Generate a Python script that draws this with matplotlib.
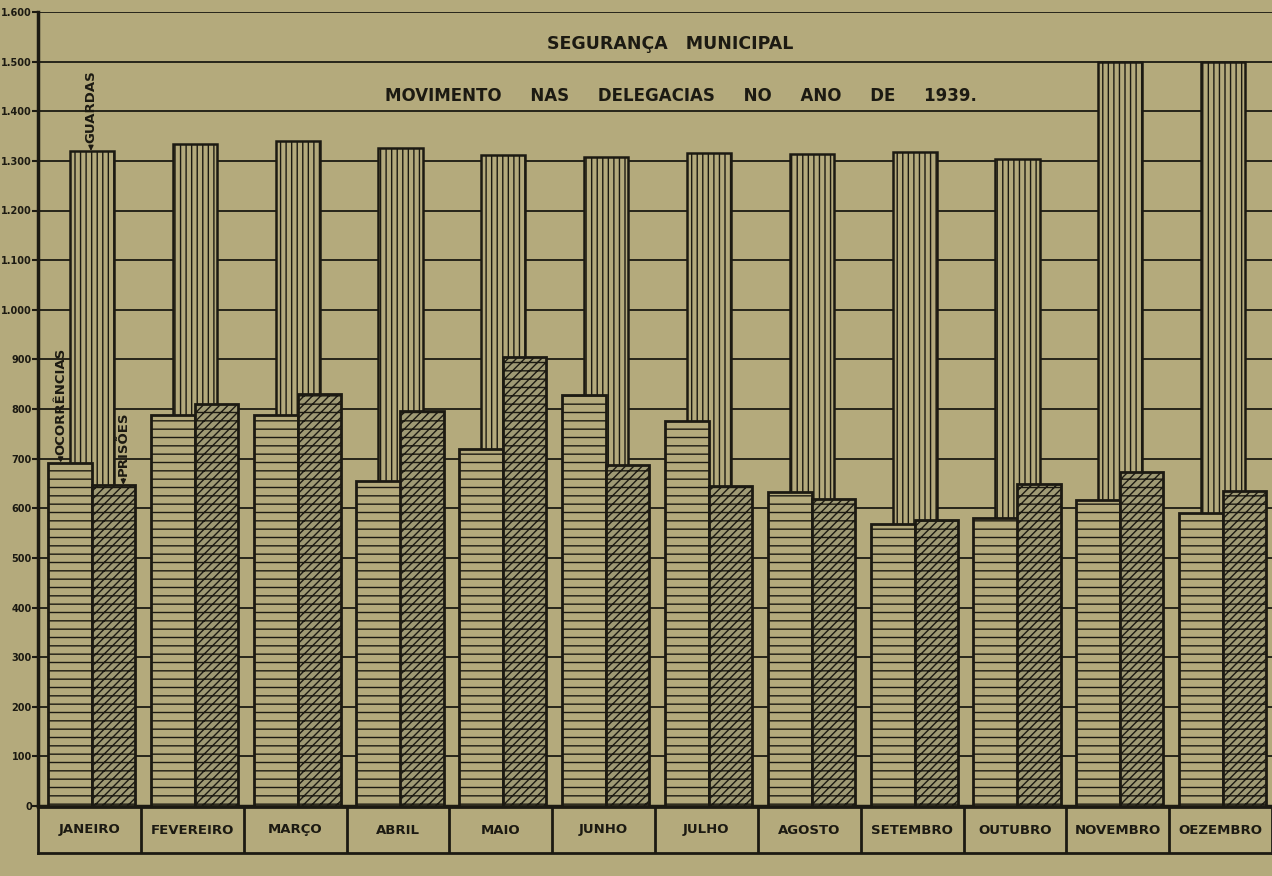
import matplotlib
matplotlib.use("Agg")
import matplotlib.pyplot as plt
import numpy as np

# data
months = ["JANEIRO", "FEVEREIRO", "MARÇO", "ABRIL", "MAIO", "JUNHO",
          "JULHO", "AGOSTO", "SETEMBRO", "OUTUBRO", "NOVEMBRO", "OEZEMBRO"]
guardas = [1320, 1334, 1340, 1326, 1312, 1308, 1316, 1314, 1318, 1304, 1500, 1500]
ocorrencias = [692, 788, 788, 655, 719, 828, 776, 632, 569, 581, 617, 591]
prisoes = [647, 810, 830, 796, 905, 687, 645, 619, 577, 649, 673, 634]
yticks = list(range(0, 1700, 100))

bg = "#b4aa7c"
ink = "#1c1a12"
plt.rcParams["hatch.linewidth"] = 1.0
plt.rcParams["font.family"] = ["DejaVu Sans"]
plt.rcParams["font.weight"] = "bold"

fig = plt.figure(figsize=(12.72, 8.76), dpi=100, facecolor=bg)
ax = fig.add_axes([38 / 1272, 70 / 876, 1234 / 1272, 794 / 876])
ax.set_facecolor(bg)
ax.set_xlim(0, 12)
ax.set_ylim(0, 1600)

# grid
for v in yticks[1:]:
    ax.axhline(v, color=ink, lw=1.3, zorder=1)

x = np.arange(len(months))
ax.bar(x + 0.525, guardas, width=0.43, facecolor=bg, edgecolor=ink,
       hatch="|||", lw=1.8, zorder=2)
ax.bar(x + 0.311, ocorrencias, width=0.43, facecolor=bg, edgecolor=ink,
       hatch="--", lw=2, zorder=3)
ax.bar(x + 0.734, prisoes, width=0.42, facecolor="#9f9a74", edgecolor=ink,
       hatch="////--", lw=2, zorder=3)

for s in ["top", "right"]:
    ax.spines[s].set_visible(False)
ax.spines["left"].set_linewidth(2.5)
ax.spines["bottom"].set_linewidth(2.5)
ax.spines["left"].set_color(ink)
ax.spines["bottom"].set_color(ink)
ax.set_xticks([])
ax.set_yticks(yticks)
ax.set_yticklabels([f"{v:,}".replace(",", ".") for v in yticks],
                   fontsize=7, fontweight="bold")
ax.tick_params(axis="y", length=4, width=1.5, pad=0.5, color=ink, labelcolor=ink)

# titles
ax.text(6.15, 1535, "SEGURANÇA   MUNICIPAL", ha="center", va="center",
        fontsize=12.5, fontweight="bold", color=ink, zorder=4)
ax.text(6.25, 1430, "MOVIMENTO     NAS     DELEGACIAS     NO     ANO     DE     1939.",
        ha="center", va="center", fontsize=12, fontweight="bold", color=ink, zorder=4)

# series labels on January
arrow = dict(arrowstyle="-|>", lw=1.1, color=ink, mutation_scale=7, shrinkA=0, shrinkB=0)
ax.annotate("GUARDAS", xy=(0.515, guardas[0]), xytext=(0.515, guardas[0] + 16),
            rotation=90, ha="center", va="bottom", fontsize=9.5,
            color=ink, arrowprops=arrow, zorder=4)
ax.annotate("OCORRÊNCIAS", xy=(0.22, ocorrencias[0]), xytext=(0.22, ocorrencias[0] + 16),
            rotation=90, ha="center", va="bottom", fontsize=9.5,
            color=ink, arrowprops=arrow, zorder=4)
ax.annotate("PRISÕES", xy=(0.83, prisoes[0]), xytext=(0.83, prisoes[0] + 18),
            rotation=90, ha="center", va="bottom", fontsize=9.5,
            color=ink, arrowprops=arrow, zorder=4)

# month boxes under the axis
lax = fig.add_axes([38 / 1272, 23 / 876, 1234 / 1272, 46 / 876])
lax.set_facecolor(bg)
lax.set_xlim(0, 12)
lax.set_ylim(0, 1)
lax.set_xticks([])
lax.set_yticks([])
for s in lax.spines.values():
    s.set_linewidth(2)
    s.set_color(ink)
for i in range(1, 12):
    lax.axvline(i, color=ink, lw=2)
for i, m in enumerate(months):
    lax.text(i + 0.5, 0.5, m, ha="center", va="center", fontsize=9.5,
             fontweight="bold", color=ink)

fig.savefig("out.png", dpi=100, facecolor=bg)
